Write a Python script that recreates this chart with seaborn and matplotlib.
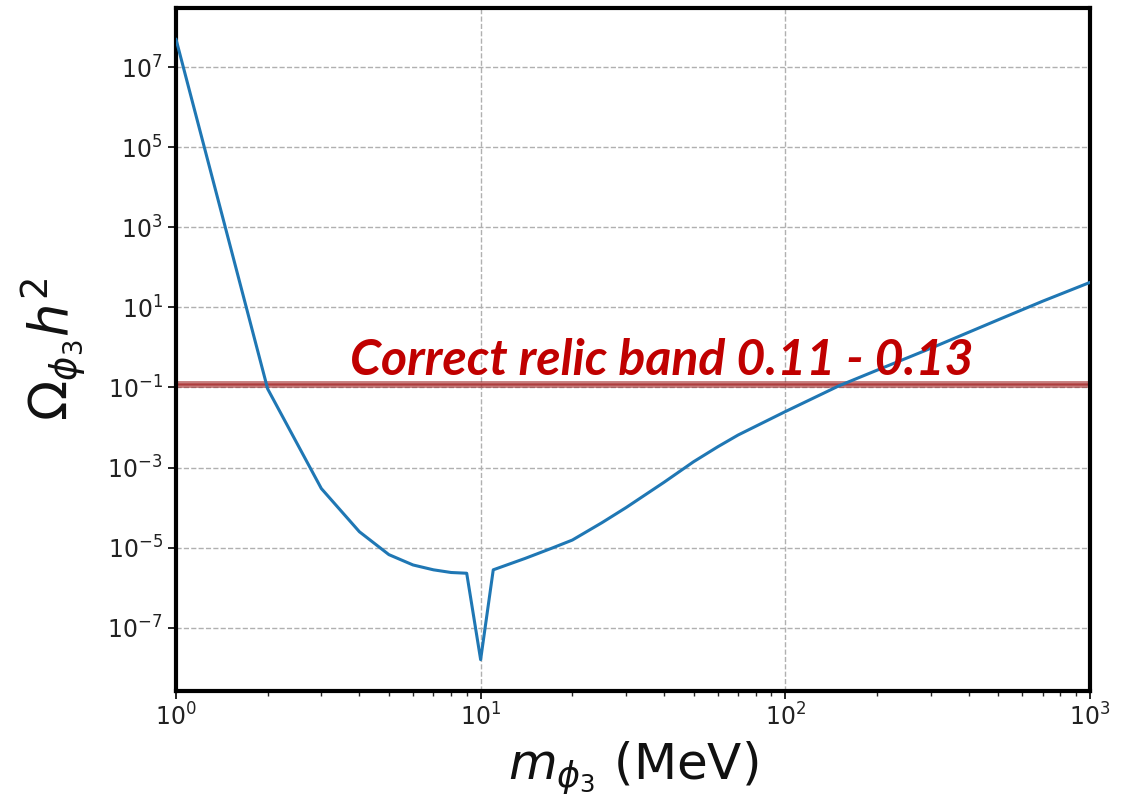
import numpy as np
import pandas as pd
import matplotlib
matplotlib.use("Agg")
import matplotlib.pyplot as plt
import seaborn as sns

# Relic abundance versus scalar mass
mass_mev = [1, 2, 3, 4, 5, 6, 7, 8, 9, 10, 11, 14, 17, 20,
            25, 30, 40, 50, 60, 70, 100, 150, 200, 300, 500, 700, 1000]
omega_h2 = [5e7, 0.092, 3.0e-4, 2.5e-5, 6.7e-6, 3.7e-6, 2.8e-6, 2.4e-6, 2.3e-6,
            1.6e-8, 2.8e-6, 5.4e-6, 9.5e-6, 1.55e-5,
            4.2e-5, 1.0e-4, 4.3e-4, 1.4e-3, 3.3e-3, 6.5e-3, 0.025, 0.11, 0.27,
            0.95, 4.9, 14.3, 42.0]

band_low, band_high = 0.11, 0.13
band_label = "Correct relic band 0.11 - 0.13"
y_ticks = [1e-7, 1e-5, 1e-3, 1e-1, 1e1, 1e3, 1e5, 1e7]

df = pd.DataFrame({"mass": mass_mev, "omega": omega_h2})

sns.set_style("ticks")
plt.rcParams["font.family"] = ["DejaVu Sans"]
plt.rcParams["mathtext.fontset"] = "dejavusans"

fig = plt.figure(figsize=(11.25, 8.1), dpi=100)
ax = fig.add_axes([0.1564, 0.1473, 0.8125, 0.8428])

sns.lineplot(data=df, x="mass", y="omega", ax=ax, color="#1f77b4",
             linewidth=2.2, sort=False, estimator=None, zorder=3)

ax.set_xscale("log")
ax.set_yscale("log")
ax.set_xlim(1, 1000)

# relic density band with emphasised edges
ax.axhspan(band_low, band_high, facecolor="#c03030", alpha=0.45,
           linewidth=0, zorder=2)
ax.axhline(band_low, color="#a02828", linewidth=2.8, alpha=0.6, zorder=2)
ax.axhline(band_high, color="#a02828", linewidth=2.8, alpha=0.6, zorder=2)

ax.text(3.72, 0.21, band_label, color="#c00000", fontsize=36,
        fontweight="bold", fontstyle="italic", family=["Lato", "DejaVu Sans"],
        va="baseline", ha="left", zorder=4)

ax.set_yticks(y_ticks)
ax.yaxis.set_minor_locator(matplotlib.ticker.NullLocator())
ax.grid(True, which="major", linestyle="--", color="#b0b0b0", linewidth=1.0)

for side in ["left", "right", "top", "bottom"]:
    ax.spines[side].set_visible(True)
    ax.spines[side].set_linewidth(3.0)
    ax.spines[side].set_color("black")

ax.tick_params(axis="both", which="major", labelsize=17, length=6, width=1.2,
               direction="out", colors="black", labelcolor="#222222")
ax.tick_params(axis="x", which="minor", length=3.5, width=1.0)

ax.set_xlabel(r"$m_{\phi_3}$ (MeV)", fontsize=36, labelpad=6, color="#111111")
ax.set_ylabel(r"$\Omega_{\phi_3}h^2$", fontsize=38, labelpad=14, color="#111111")

fig.savefig("out.png", dpi=100, facecolor="white")
